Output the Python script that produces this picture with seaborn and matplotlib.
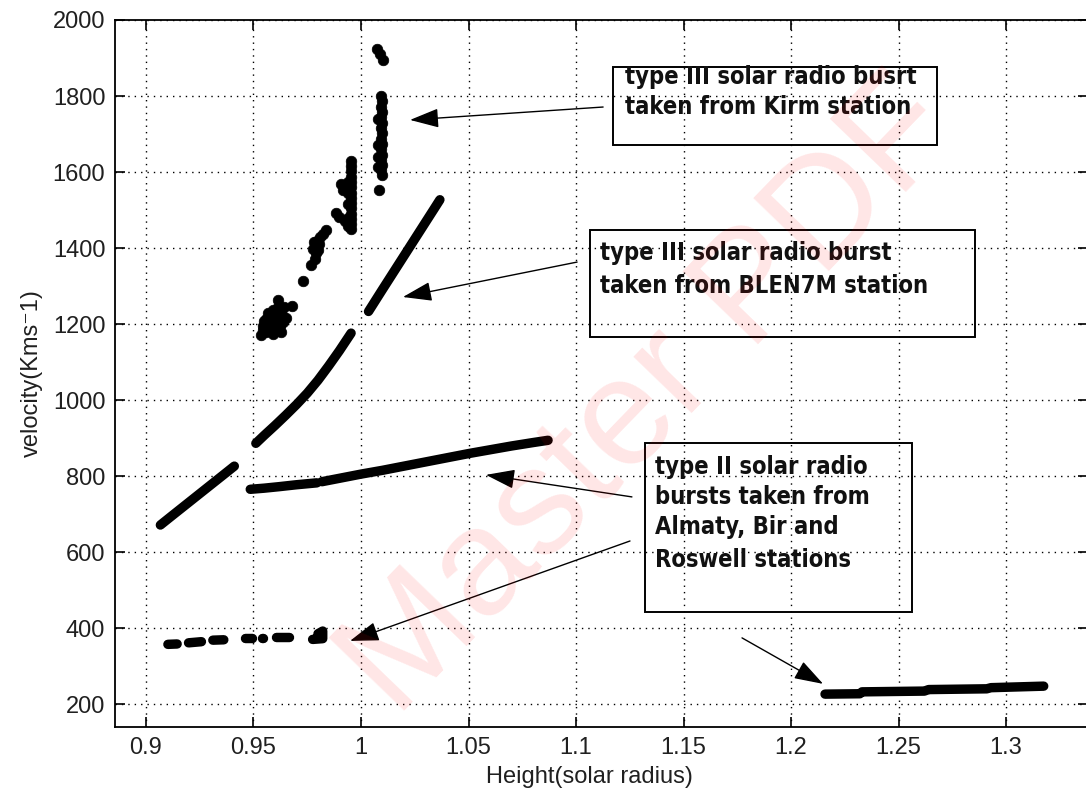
import matplotlib
matplotlib.use("Agg")
import matplotlib.pyplot as plt
import pandas as pd
import seaborn as sns
from matplotlib import font_manager
from matplotlib.patches import Rectangle

# ---------------- data ----------------
# Type III burst, Kirm station (scattered samples)
kirm_height = [
    1.0076, 1.0090, 1.0102,
    1.0093, 1.0098, 1.0093, 1.0098, 1.0093, 1.0098, 1.0093, 1.0098,
    1.0093, 1.0098, 1.0093, 1.0098, 1.0093, 1.0098, 1.0093, 1.0098,
    1.0077, 1.0077, 1.0078, 1.0079, 1.0082,
    0.9955, 0.9955, 0.9955, 0.9955, 0.9955, 0.9955, 0.9955, 0.9955,
    0.9955, 0.9955, 0.9955, 0.9955, 0.9955, 0.9955,
    0.9940, 0.9940, 0.9940, 0.9940, 0.9940,
    0.9908, 0.9918, 0.9885, 0.9898, 0.9925,
    0.9838, 0.9824, 0.9810, 0.9796, 0.9792, 0.9790, 0.9784, 0.9768,
    0.9802, 0.9806, 0.9778, 0.9780,
    0.9732,
    0.9534, 0.9545, 0.9552, 0.9560, 0.9570, 0.9578, 0.9585, 0.9592,
    0.9598, 0.9605, 0.9615, 0.9620, 0.9628, 0.9635, 0.9640, 0.9650,
    0.9678, 0.9560, 0.9590, 0.9610, 0.9548, 0.9566, 0.9582, 0.9600,
    0.9612, 0.9625, 0.9575, 0.9596, 0.9542, 0.9632,
]
kirm_velocity = [
    1924, 1910, 1896,
    1800, 1786, 1772, 1758, 1744, 1730, 1716, 1702,
    1688, 1674, 1660, 1646, 1632, 1618, 1604, 1592,
    1740, 1672, 1640, 1612, 1553,
    1630, 1616, 1602, 1588, 1574, 1560, 1546, 1532,
    1518, 1504, 1490, 1476, 1462, 1450,
    1575, 1545, 1515, 1480, 1458,
    1568, 1552, 1493, 1482, 1470,
    1448, 1438, 1428, 1418, 1402, 1386, 1372, 1356,
    1394, 1410, 1398, 1416,
    1312,
    1172, 1185, 1200, 1213, 1195, 1220, 1205, 1238,
    1190, 1215, 1262, 1230, 1180, 1205, 1245, 1215,
    1247, 1178, 1175, 1200, 1208, 1228, 1188, 1225,
    1245, 1195, 1210, 1202, 1195, 1225,
]

# Type III burst, BLEN7M station (three continuous strips)
blen_height = [
    0.9067, 0.9120, 0.9180, 0.9240, 0.9300, 0.9360, 0.9411,
    0.9511, 0.9550, 0.9600, 0.9650, 0.9700, 0.9750, 0.9800, 0.9850, 0.9900, 0.9954,
    1.0035, 1.0100, 1.0160, 1.0220, 1.0280, 1.0340, 1.0367,
]
blen_velocity = [
    671, 695, 722, 749, 776, 803, 826,
    886, 907, 933, 960, 988, 1018, 1052, 1090, 1130, 1176,
    1233, 1291, 1344, 1397, 1450, 1503, 1527,
]
blen_piece = [0] * 7 + [1] * 10 + [2] * 7

# Type II bursts, Almaty / Bir / Roswell
typeii_height = [
    0.9485, 0.9550, 0.9620, 0.9700, 0.9795,
    0.9818, 0.9900, 1.0000, 1.0100, 1.0200, 1.0300, 1.0400, 1.0500,
    1.0600, 1.0700, 1.0800, 1.0870,
    0.9102, 0.9145,
    0.9198, 0.9258,
    0.9311, 0.9362,
    0.9461, 0.9494,
    0.9540, 0.9544,
    0.9606, 0.9667,
    0.9775, 0.9822, 0.9822, 0.9800,
    1.2158, 1.2320, 1.2330, 1.2620, 1.2640, 1.2910, 1.2930, 1.3175,
]
typeii_velocity = [
    765, 768, 772, 777, 782,
    785, 794, 805, 815, 826, 837, 848, 859,
    869, 879, 888, 894,
    357, 358,
    361, 364,
    368, 369,
    374, 374,
    373, 373,
    376, 376,
    370, 372, 392, 385,
    226, 227, 232, 234, 238, 240, 243, 247,
]
typeii_piece = ([0] * 5 + [1] * 12 + [2] * 2 + [3] * 2 + [4] * 2 + [5] * 2
                + [6] * 2 + [7] * 2 + [8] * 4 + [9] * 8)

x_ticks = [0.9, 0.95, 1.0, 1.05, 1.1, 1.15, 1.2, 1.25, 1.3]
x_tick_labels = ["0.9", "0.95", "1", "1.05", "1.1", "1.15", "1.2", "1.25", "1.3"]
y_ticks = [200, 400, 600, 800, 1000, 1200, 1400, 1600, 1800, 2000]

# ---------------- fonts ----------------
available = {f.name for f in font_manager.fontManager.ttflist}
base_font = [f for f in ["Liberation Sans", "Arial", "DejaVu Sans"] if f in available]
narrow_font = [f for f in ["Liberation Sans Narrow", "Arial Narrow", "DejaVu Sans"]
               if f in available]

sns.set_theme(style="ticks")
plt.rcParams["font.family"] = base_font + ["DejaVu Sans"]

# ---------------- figure ----------------
fig = plt.figure(figsize=(10.86, 7.99), dpi=100)
ax = fig.add_axes([115 / 1086, 72 / 799, 973 / 1086, 707 / 799])

strip_lw = 6.8
sns.lineplot(
    data=pd.DataFrame({"h": blen_height, "v": blen_velocity, "p": blen_piece}),
    x="h", y="v", units="p", estimator=None, sort=False, color="black",
    linewidth=strip_lw, solid_capstyle="round", solid_joinstyle="round",
    legend=False, ax=ax, zorder=3,
)
sns.lineplot(
    data=pd.DataFrame({"h": typeii_height, "v": typeii_velocity, "p": typeii_piece}),
    x="h", y="v", units="p", estimator=None, sort=False, color="black",
    linewidth=strip_lw, solid_capstyle="round", solid_joinstyle="round",
    legend=False, ax=ax, zorder=3,
)
sns.scatterplot(
    x=kirm_height, y=kirm_velocity, color="black", s=58, edgecolor="black",
    linewidth=0.5, ax=ax, zorder=3, legend=False,
)

ax.set_xlim(0.8856, 1.3381)
ax.set_ylim(139.5, 2000)
ax.set_xticks(x_ticks)
ax.set_xticklabels(x_tick_labels)
ax.set_yticks(y_ticks)

ax.grid(True, color="black", linestyle=(0, (1, 3.6)), linewidth=1.0)
ax.set_axisbelow(True)
for side in ["left", "right", "top", "bottom"]:
    ax.spines[side].set_visible(True)
    ax.spines[side].set_color("black")
    ax.spines[side].set_linewidth(1.3)
ax.tick_params(axis="both", which="major", direction="in", length=7, width=1.2,
               top=True, right=True, labelsize=17, labelcolor="#202020", pad=7,
               color="black")

ax.set_xlabel("Height(solar radius)", fontsize=17, color="#202020")
ax.xaxis.set_label_coords(0.488, -0.055, transform=ax.transAxes)
ax.xaxis.label.set_va("top")
ax.set_ylabel("velocity(Kms\u207b1)", fontsize=17, color="#202020", labelpad=7)

# ---------------- annotations ----------------
box_kw = dict(fill=False, edgecolor="black", linewidth=1.4, zorder=4)
text_kw = dict(fontsize=17, fontweight="bold", fontstretch="condensed",
               family=narrow_font, color="#111111", va="center", ha="left", zorder=5)

ax.add_patch(Rectangle((1.1172, 1671), 1.2679 - 1.1172, 1876 - 1671, **box_kw))
ax.text(1.1228, 1850, "type III solar radio busrt", **text_kw)
ax.text(1.1228, 1771, "taken from Kirm station", **text_kw)

ax.add_patch(Rectangle((1.1065, 1166), 1.2856 - 1.1065, 1447 - 1166, **box_kw))
ax.text(1.1112, 1387, "type III solar radio burst", **text_kw)
ax.text(1.1112, 1300, "taken from BLEN7M station", **text_kw)

ax.add_patch(Rectangle((1.1321, 442), 1.2563 - 1.1321, 887 - 442, **box_kw))
for yy, line in zip([824, 745, 666, 579],
                    ["type II solar radio", "bursts taken from",
                     "Almaty, Bir and", "Roswell stations"]):
    ax.text(1.1367, yy, line, **text_kw)

arrow_kw = dict(arrowstyle="-|>,head_length=0.9,head_width=0.3", color="black",
                linewidth=1.0, mutation_scale=20, shrinkA=0, shrinkB=0)
arrows = [
    ((1.1126, 1771), (1.0228, 1737)),
    ((1.1005, 1363), (1.0195, 1271)),
    ((1.1260, 745), (1.0581, 803)),
    ((1.1251, 629), (0.9949, 366)),
    ((1.1772, 374), (1.2149, 253)),
]
for tail, head in arrows:
    ax.annotate("", xy=head, xytext=tail, arrowprops=arrow_kw, zorder=5)

# faint diagonal watermark
fig.text(0.60, 0.50, "Master PDF", rotation=46, fontsize=110, color="red",
         alpha=0.10, ha="center", va="center", family=base_font, zorder=0)

fig.savefig("out.png", dpi=100)
